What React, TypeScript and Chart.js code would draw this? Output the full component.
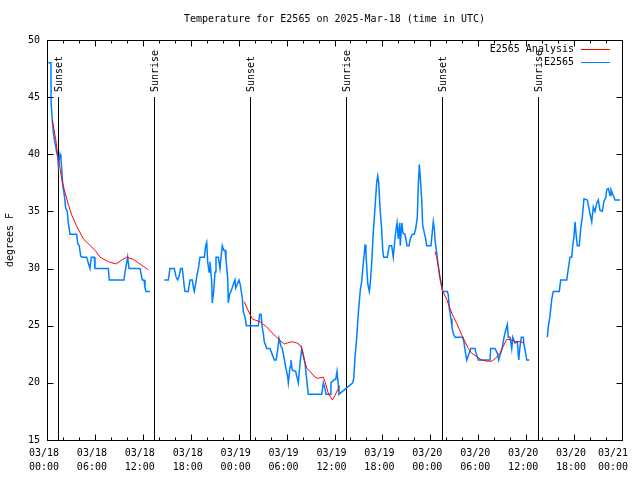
import React, { useEffect, useRef } from 'react';
import { Chart, registerables } from 'chart.js';

Chart.register(...registerables);

const FONT = '"DejaVu Sans Mono", "Liberation Mono", monospace';

const titleText = 'Temperature for E2565 on 2025-Mar-18 (time in UTC)';
const yAxisTitle = 'degrees F';
const obsLabel = 'E2565';
const anaLabel = 'E2565 Analysis';

// x ticks every 6 hours, hours since 03/18 00:00 UTC
const xTickDates = ['03/18', '03/18', '03/18', '03/18', '03/19', '03/19', '03/19', '03/19', '03/20', '03/20', '03/20', '03/20', '03/21'];
const xTickTimes = ['00:00', '06:00', '12:00', '18:00', '00:00', '06:00', '12:00', '18:00', '00:00', '06:00', '12:00', '18:00', '00:00'];

const sunEventHours = [1.42, 13.44, 25.43, 37.45, 49.45, 61.47];
const sunEventLabels = ['Sunset', 'Sunrise', 'Sunset', 'Sunrise', 'Sunset', 'Sunrise'];

// observed E2565 (null = no data)
const obsHours = [
  0.16, 0.5, 0.51, 0.66, 0.79, 0.91, 1.09, 1.21, 1.34, 1.42, 1.63, 1.75, 1.84, 1.97, 2.17, 2.34, 2.54, 2.67, 2.88, 3.72,
  3.84, 4.04, 4.22, 4.42, 4.97, 5.17, 5.38, 5.55, 5.92, 6.01, 7.68, 7.8, 9.64, 9.77, 10.1, 10.27, 11.65, 11.93, 12.15, 12.27,
  12.4, 12.9,
  13.5,
  14.69, 15.19, 15.4, 15.94, 16.15, 16.36, 16.53, 16.74, 16.94, 17.06, 17.19, 17.28, 17.69, 17.91, 18.19, 18.37, 18.44, 18.62,
  18.75, 18.95, 19.16, 19.7, 19.87, 20.0, 20.12, 20.29, 20.41, 20.62, 20.7, 20.87, 21.04, 21.16, 21.45, 21.66, 21.79, 21.95,
  22.13, 22.29, 22.41, 22.63, 22.7, 22.88, 23.04, 23.33, 23.54, 23.63, 24.04, 24.2, 24.46, 24.58, 24.79, 24.96, 26.46, 26.63,
  26.8, 26.96, 27.09, 27.21, 27.51, 27.92, 28.14, 28.46, 28.68, 28.89, 29.05, 29.3, 29.46, 29.71, 29.89, 30.14, 30.22, 30.43,
  30.55, 30.72, 31.14, 31.3, 31.47, 31.68, 31.89, 32.09, 32.31, 32.52, 32.72, 34.4, 34.6, 34.81, 34.94, 35.44, 35.56, 35.98,
  36.15, 36.31, 36.48, 36.56, 38.28, 38.41, 38.57, 38.78, 38.98, 39.23, 39.41, 39.61, 39.73, 39.82, 39.94, 40.16, 40.36, 40.48,
  40.66, 40.86, 41.07, 41.28, 41.41, 41.54, 41.7, 41.91, 42.04, 42.16, 42.61, 42.86, 43.16, 43.36, 43.49, 43.66, 43.83, 43.99,
  44.16, 44.24, 44.42, 44.58, 44.83, 45.08, 45.33, 45.49, 45.74, 45.99, 46.17, 46.37, 46.49, 46.62, 46.74, 46.92, 47.04, 47.25,
  47.42, 47.55, 48.08, 48.25, 48.37, 48.5, 48.59, 48.75, 48.87, 49.0, 49.17, 49.34, 49.55, 50.13, 50.25, 50.38, 50.59, 50.71,
  50.88, 51.09, 52.05, 52.22, 52.38, 52.56, 52.76, 53.06, 53.59, 53.72, 54.01, 55.47, 55.56, 56.1, 56.39, 56.56, 56.81, 56.98,
  57.23, 57.44, 57.64, 57.76, 57.98, 58.19, 58.32, 58.6, 58.89, 59.07, 59.23, 59.39, 59.64, 59.73, 59.86, 60.07, 60.39,
  61.5,
  62.65, 62.77, 62.99, 63.2, 63.4, 64.15, 64.32, 65.08, 65.28, 65.49, 65.7, 65.83, 65.99, 66.12, 66.24, 66.4, 66.65, 66.83,
  67.03, 67.24, 67.66, 67.83, 68.0, 68.21, 68.41, 68.62, 68.83, 69.03, 69.25, 69.53, 69.75, 69.96, 70.09, 70.29, 70.5, 70.62,
  70.91, 71.12, 71.75,
];
const obsTemps = [
  48, 48, 44.6, 43, 42, 41.3, 40.7, 40.2, 39.8, 39, 40, 39.6, 38.8, 37.3, 36.4, 35.3, 35, 34, 33, 33,
  32.2, 32, 31.1, 31, 31, 30.5, 30, 31, 31, 30, 30, 29, 29, 29.7, 31, 30, 30, 29, 29, 28.3,
  28, 28,
  null,
  29, 29, 30, 30, 29.3, 29, 29.3, 30, 30, 29.3, 28.4, 28, 28, 29, 29, 28.2, 28, 28.7,
  29.3, 30, 31, 31, 32, 32.3, 30.6, 29.7, 30.6, 28.9, 27, 28, 29.7, 31, 31, 30, 31, 32,
  31.6, 31.6, 30.8, 29.1, 27, 27.8, 28, 28.6, 29, 28.3, 29, 28.6, 27.4, 26.2, 25.8, 25, 25, 26,
  26, 24.8, 24.3, 23.6, 23, 23, 22.6, 22, 22, 22.9, 23.9, 23.2, 23, 22.1, 21.4, 20.5, 20, 21.4,
  22, 21.1, 21, 20.5, 20, 21.7, 23, 22.4, 21.7, 20.3, 19, 19, 20, 19.5, 19, 19, 20, 20.3,
  20.3, 21, 19.8, 19, 20, 20.4, 22.3, 23.9, 26.1, 28.1, 28.9, 30.5, 31.3, 32.1, 31.3, 28.7, 28, 28.7,
  30.5, 33.2, 35.3, 37.5, 38.1, 37.5, 35.3, 33.4, 31.6, 31, 31, 32, 32, 31, 32, 33.2, 34, 32.6,
  34, 32, 34, 33.1, 33, 32, 32, 32.6, 33, 33, 33.5, 34.5, 37.2, 39.1, 38, 36, 33.8, 33.1,
  32.6, 32, 32, 33.2, 34.1, 33.5, 32.5, 31.6, 30.9, 30.2, 29.3, 28.7, 28, 28, 27.7, 26.5, 25.6, 24.9,
  24.3, 24, 24, 23.5, 22.7, 22, 22.4, 23, 23, 22.6, 22, 22, 23, 23, 22.6, 22, 22.6, 23,
  24, 24.6, 25.1, 24, 24, 23, 24, 23.5, 23.6, 22, 23.2, 24, 24, 23.3, 22.9, 22, 22,
  null,
  24, 24.9, 25.9, 27.3, 28, 28, 29, 29, 30, 31, 31, 32, 32.8, 34.1, 33.1, 32, 32, 33.5,
  34.5, 36.1, 36, 35.4, 34.8, 34.1, 35.4, 35, 35.7, 36, 35.1, 35, 35.9, 36.2, 36.9, 37, 36.4, 36.9,
  36.4, 36, 36,
];

// analysis (null = no analysis)
const anaHours = [
  0.66, 1.09, 1.34, 1.63, 1.84, 2.17, 2.67, 3.09, 3.72, 4.55, 6.01, 6.64, 7.68, 8.64, 9.27, 9.98, 10.81, 11.65, 12.27, 12.69,
  18.0,
  24.71, 25.13, 25.42, 25.71, 26.05, 26.46, 26.8, 27.09, 27.51, 28.14, 28.76, 29.18, 29.71, 30.14, 30.64, 31.27, 31.68, 31.97,
  32.22, 32.52, 32.93, 33.56, 33.9, 34.6, 34.81, 35.22, 35.73, 36.06, 36.4, 36.6,
  42.0,
  48.59, 48.8, 49.0, 49.21, 49.5, 50.05, 50.68, 51.3, 51.93, 52.76, 53.18, 53.81, 54.43, 55.06, 55.69, 56.1, 56.73, 57.14,
  57.56, 58.06, 58.6, 59.23, 59.73,
];
const anaTemps = [
  43.0, 41.3, 39.9, 38.8, 37.8, 36.9, 35.6, 34.7, 33.7, 32.6, 31.6, 31.0, 30.6, 30.4, 30.7, 31.0, 30.8, 30.4, 30.1, 29.9,
  null,
  27.1, 26.4, 26.0, 25.6, 25.5, 25.4, 25.3, 25.1, 24.9, 24.4, 24.0, 23.7, 23.4, 23.5, 23.6, 23.5, 23.3, 22.9,
  22.0, 21.3, 21.0, 20.5, 20.4, 20.5, 20.1, 19.1, 18.5, 18.9, 19.4, 19.7,
  null,
  31.5, 31.0, 30.2, 29.3, 28.1, 27.3, 26.1, 25.2, 24.2, 23.0, 22.6, 22.3, 22.0, 21.9, 21.9, 22.1, 22.6, 23.2,
  23.8, 23.8, 23.6, 23.6, 23.5,
];

const X_MIN = 0;
const X_MAX = 72;
const Y_MIN = 15;
const Y_MAX = 50;

const OBS_COLOR = 'rgb(0,128,255)';
const ANA_COLOR = 'rgb(255,0,0)';

function toPoints(xs: number[], ys: (number | null)[]) {
  return xs.map((x, i) => ({ x, y: ys[i] }));
}

const gnuplotDecor = {
  id: 'gnuplotDecor',
  beforeDatasetsDraw(chart: any) {
    const { ctx, chartArea: a } = chart;
    const x = chart.scales.x;
    ctx.save();
    ctx.strokeStyle = '#000';
    ctx.fillStyle = '#000';
    ctx.lineWidth = 1;
    ctx.font = `10px ${FONT}`;
    sunEventHours.forEach((h, i) => {
      const px = Math.round(x.getPixelForValue(h)) + 0.5;
      ctx.beginPath();
      ctx.moveTo(px, 97);
      ctx.lineTo(px, a.bottom);
      ctx.stroke();
      ctx.save();
      ctx.translate(px + 1, 92);
      ctx.rotate(-Math.PI / 2);
      ctx.textAlign = 'left';
      ctx.textBaseline = 'middle';
      ctx.fillText(sunEventLabels[i], 0, 0);
      ctx.restore();
    });
    ctx.restore();
  },
  afterDraw(chart: any) {
    const { ctx, chartArea: a } = chart;
    const xs = chart.scales.x;
    const ys = chart.scales.y;
    const L = Math.round(a.left) + 0.5;
    const R = Math.round(a.right) + 0.5;
    const T = Math.round(a.top) + 0.5;
    const B = Math.round(a.bottom) + 0.5;
    ctx.save();
    ctx.strokeStyle = '#000';
    ctx.fillStyle = '#000';
    ctx.lineWidth = 1;
    // frame
    ctx.strokeRect(L, T, R - L, B - T);
    // x ticks (major 6h, minor 2h), inward on bottom and top
    ctx.beginPath();
    for (let h = X_MIN; h <= X_MAX; h += 2) {
      const px = Math.round(xs.getPixelForValue(h)) + 0.5;
      const len = h % 6 === 0 ? 6 : 3;
      ctx.moveTo(px, B);
      ctx.lineTo(px, B - len);
      ctx.moveTo(px, T);
      ctx.lineTo(px, T + len);
    }
    // y ticks, inward on left and right
    for (let v = Y_MIN; v <= Y_MAX; v += 5) {
      const py = Math.round(ys.getPixelForValue(v)) + 0.5;
      ctx.moveTo(L, py);
      ctx.lineTo(L + 6, py);
      ctx.moveTo(R, py);
      ctx.lineTo(R - 6, py);
    }
    ctx.stroke();

    ctx.font = `10px ${FONT}`;
    // title
    ctx.textAlign = 'center';
    ctx.textBaseline = 'middle';
    ctx.fillText(titleText, (a.left + a.right) / 2, 19);
    // y axis title
    ctx.save();
    ctx.translate(10, (a.top + a.bottom) / 2);
    ctx.rotate(-Math.PI / 2);
    ctx.fillText(yAxisTitle, 0, 0);
    ctx.restore();

    // legend
    const items = [
      { label: anaLabel, color: ANA_COLOR, y: 49.5 },
      { label: obsLabel, color: OBS_COLOR, y: 62.5 },
    ];
    items.forEach((it) => {
      ctx.textAlign = 'right';
      ctx.textBaseline = 'middle';
      ctx.fillStyle = '#000';
      ctx.fillText(it.label, 574, it.y);
      ctx.strokeStyle = it.color;
      ctx.lineWidth = 1;
      ctx.beginPath();
      ctx.moveTo(581, it.y);
      ctx.lineTo(610, it.y);
      ctx.stroke();
    });
    ctx.restore();
  },
};

export default function App() {
  const ref = useRef<HTMLCanvasElement>(null);

  useEffect(() => {
    const canvas = ref.current;
    if (!canvas) return;
    const chart = new Chart(canvas, {
      type: 'line',
      data: {
        datasets: [
          {
            label: anaLabel,
            data: toPoints(anaHours, anaTemps),
            borderColor: ANA_COLOR,
            backgroundColor: ANA_COLOR,
            borderWidth: 1,
            pointRadius: 0,
            tension: 0,
            spanGaps: false,
            order: 0,
          },
          {
            label: obsLabel,
            data: toPoints(obsHours, obsTemps),
            borderColor: OBS_COLOR,
            backgroundColor: OBS_COLOR,
            borderWidth: 1.5,
            pointRadius: 0,
            tension: 0,
            spanGaps: false,
            order: 1,
          },
        ],
      },
      options: {
        responsive: false,
        animation: false,
        devicePixelRatio: 1,
        layout: { padding: { top: 40, right: 18, left: 0, bottom: 0 } },
        plugins: {
          legend: { display: false },
          title: { display: false },
          tooltip: { enabled: false },
        },
        scales: {
          x: {
            type: 'linear',
            min: X_MIN,
            max: X_MAX,
            afterFit: (s: any) => {
              s.height = 40;
              s.paddingLeft = 0;
              s.paddingRight = 0;
            },
            grid: { display: false, drawTicks: false },
            border: { display: false },
            ticks: {
              stepSize: 6,
              autoSkip: false,
              maxRotation: 0,
              minRotation: 0,
              padding: 6,
              labelOffset: -3,
              color: '#000',
              font: { family: FONT, size: 10, lineHeight: 1.4 },
              callback: (value: any) => {
                const i = Math.round(Number(value) / 6);
                // the last label is kept inside the picture, as in the original
                const pad = i === xTickDates.length - 1 ? '  ' : '';
                return [xTickDates[i] + pad, xTickTimes[i] + pad];
              },
            },
          },
          y: {
            type: 'linear',
            min: Y_MIN,
            max: Y_MAX,
            afterFit: (s: any) => {
              s.width = 47;
              s.paddingTop = 0;
              s.paddingBottom = 0;
            },
            grid: { display: false, drawTicks: false },
            border: { display: false },
            ticks: {
              stepSize: 5,
              padding: 7,
              color: '#000',
              font: { family: FONT, size: 10 },
            },
          },
        },
      },
      plugins: [gnuplotDecor],
    });
    return () => chart.destroy();
  }, []);

  return (
    <div style={{ position: 'absolute', left: 0, top: 0, width: 640, height: 480, background: '#fff' }}>
      <canvas ref={ref} width={640} height={480} />
    </div>
  );
}
